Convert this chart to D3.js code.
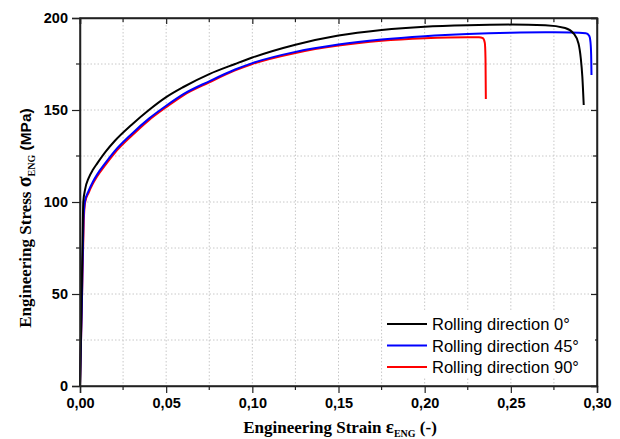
<!DOCTYPE html>
<html>
<head>
<meta charset="utf-8">
<script src="https://cdn.jsdelivr.net/npm/d3@7"></script>
<style>
  html, body { margin: 0; padding: 0; background: #fff; }
  svg { display: block; }
</style>
</head>
<body>
<svg id="chart" width="620" height="439"></svg>
<script>
// Tensile test curves: engineering strain (-) vs engineering stress (MPa)
const seriesNames = ["Rolling direction 0°", "Rolling direction 45°", "Rolling direction 90°"];
const seriesColors = ["#000000", "#0000ff", "#ff0000"];

const strain0 = [0, 0.0008, 0.0015, 0.0019, 0.003, 0.005, 0.0075, 0.01, 0.015, 0.02, 0.03, 0.04, 0.05, 0.06, 0.075, 0.09, 0.10, 0.125, 0.15, 0.175, 0.20, 0.225, 0.25, 0.27, 0.2815, 0.2865, 0.2893, 0.2906, 0.2915, 0.2923];
const stress0 = [0, 40, 80, 100, 107, 113, 117.5, 121, 127.5, 133, 142, 150, 157, 162.5, 169.5, 175, 178.5, 185.5, 190.5, 193.5, 195.3, 196.1, 196.4, 196.1, 194.6, 191.5, 186, 178, 168, 152.7];

const strain45 = [0, 0.0012, 0.002, 0.0028, 0.005, 0.0075, 0.01, 0.015, 0.02, 0.03, 0.04, 0.05, 0.06, 0.075, 0.09, 0.10, 0.125, 0.15, 0.175, 0.20, 0.225, 0.25, 0.27, 0.285, 0.2935, 0.2955, 0.2962, 0.2966, 0.2968];
const stress45 = [0, 50, 90, 100, 106, 111, 115, 121.5, 127.5, 137, 145.3, 152.3, 158.6, 165.6, 172, 175.5, 181.6, 185.6, 188.3, 190.1, 191.3, 192, 192.2, 192.1, 191.7, 190.3, 187, 180, 169];

const strain90 = [0, 0.0012, 0.0022, 0.003, 0.005, 0.0075, 0.01, 0.015, 0.02, 0.03, 0.04, 0.05, 0.06, 0.075, 0.09, 0.10, 0.125, 0.15, 0.175, 0.20, 0.225, 0.2315, 0.2338, 0.2349, 0.2353, 0.2355];
const stress90 = [0, 50, 90, 100, 105, 110, 114, 120.5, 126.5, 136, 144.5, 151.5, 158, 165, 171.5, 175, 181, 185, 187.6, 189, 189.6, 189.6, 189, 186.5, 178, 156];

const xTickLabels = ["0,00", "0,05", "0,10", "0,15", "0,20", "0,25", "0,30"];
const yTickLabels = ["0", "50", "100", "150", "200"];

const series = [
  { name: seriesNames[0], color: seriesColors[0], x: strain0, y: stress0 },
  { name: seriesNames[1], color: seriesColors[1], x: strain45, y: stress45 },
  { name: seriesNames[2], color: seriesColors[2], x: strain90, y: stress90 }
];

const svg = d3.select("#chart");
const plotLeft = 80, plotRight = 597, plotTop = 18, plotBottom = 386;

const x = d3.scaleLinear().domain([0, 0.30]).range([plotLeft, plotRight]);
const y = d3.scaleLinear().domain([0, 200]).range([plotBottom, plotTop]);

const xMajor = d3.range(0, 0.3001, 0.05);
const xMinor = d3.range(0.025, 0.3, 0.05);
const yMajor = d3.range(0, 200.1, 50);
const yMinor = d3.range(25, 200, 50);

// dotted grid at every major and minor tick
const grid = svg.append("g").attr("stroke", "#c8c8c8").attr("stroke-width", 1).attr("stroke-dasharray", "1.5,2");
d3.range(0.025, 0.3, 0.025).forEach(v => {
  grid.append("line").attr("x1", x(v)).attr("x2", x(v)).attr("y1", plotTop).attr("y2", plotBottom);
});
d3.range(25, 200, 25).forEach(v => {
  grid.append("line").attr("x1", plotLeft).attr("x2", plotRight).attr("y1", y(v)).attr("y2", y(v));
});

// curves
const line = d3.line()
  .x(d => x(d[0]))
  .y(d => y(d[1]))
  .curve(d3.curveMonotoneX);

const curves = svg.append("g");
series.slice().reverse().forEach(s => {
  const pts = s.x.map((v, i) => [v, s.y[i]]);
  curves.append("path")
    .attr("d", line(pts))
    .attr("fill", "none")
    .attr("stroke", s.color)
    .attr("stroke-width", 2)
    .attr("stroke-linejoin", "round");
});

// axes
const tickFont = "'Liberation Sans', Arial, sans-serif";

const xAxis = d3.axisBottom(x).tickValues(xMajor).tickFormat((d, i) => xTickLabels[i]).tickSize(7).tickPadding(5);
const gx = svg.append("g").attr("transform", `translate(0,${plotBottom})`).call(xAxis);
xMinor.forEach(v => gx.append("line").attr("class", "minor").attr("x1", x(v)).attr("x2", x(v)).attr("y1", 0).attr("y2", 4));

const yAxis = d3.axisLeft(y).tickValues(yMajor).tickFormat((d, i) => yTickLabels[i]).tickSize(8).tickPadding(4);
const gy = svg.append("g").attr("transform", `translate(${plotLeft},0)`).call(yAxis);
yMinor.forEach(v => gy.append("line").attr("class", "minor").attr("x1", 0).attr("x2", -4).attr("y1", y(v)).attr("y2", y(v)));

const xTop = d3.axisTop(x).tickValues(xMajor).tickFormat("").tickSize(-6);
const gxt = svg.append("g").attr("transform", `translate(0,${plotTop})`).call(xTop);
xMinor.forEach(v => gxt.append("line").attr("class", "minor").attr("x1", x(v)).attr("x2", x(v)).attr("y1", 0).attr("y2", 4));

const yRight = d3.axisRight(y).tickValues(yMajor).tickFormat("").tickSize(-6);
const gyr = svg.append("g").attr("transform", `translate(${plotRight},0)`).call(yRight);
yMinor.forEach(v => gyr.append("line").attr("class", "minor").attr("x1", 0).attr("x2", -4).attr("y1", y(v)).attr("y2", y(v)));

[gx, gy, gxt, gyr].forEach(g => {
  g.select(".domain").attr("stroke", "#222").attr("stroke-width", 1.5);
  g.selectAll(".tick line, line.minor").attr("stroke", "#222").attr("stroke-width", 1.2);
  g.selectAll("text")
    .attr("font-family", tickFont)
    .attr("font-weight", "bold")
    .attr("font-size", 14.5)
    .attr("fill", "#000");
});

// frame
svg.append("rect")
  .attr("x", plotLeft).attr("y", plotTop)
  .attr("width", plotRight - plotLeft).attr("height", plotBottom - plotTop)
  .attr("fill", "none").attr("stroke", "#222").attr("stroke-width", 1.5);

// axis titles
const serif = "'Liberation Serif', 'Times New Roman', serif";
const xt = svg.append("text")
  .attr("x", 340).attr("y", 433)
  .attr("text-anchor", "middle")
  .attr("font-family", serif).attr("font-weight", "bold").attr("font-size", 17)
  .attr("fill", "#000");
xt.append("tspan").text("Engineering Strain ");
xt.append("tspan").attr("font-size", 19).text("ε");
xt.append("tspan").attr("font-size", 10).attr("dy", 4).text("ENG");
xt.append("tspan").attr("dy", -4).text(" (-)");

const yt = svg.append("text")
  .attr("transform", "translate(31,218) rotate(-90)")
  .attr("text-anchor", "middle")
  .attr("font-family", serif).attr("font-weight", "bold").attr("font-size", 17)
  .attr("fill", "#000");
yt.append("tspan").text("Engineering Stress ");
yt.append("tspan").attr("font-size", 20).text("σ");
yt.append("tspan").attr("font-size", 10).attr("dy", 4).text("ENG");
yt.append("tspan").attr("dy", -4).attr("font-family", tickFont).attr("font-size", 15.5).text(" (MPa)");

// legend
const legend = svg.append("g");
legend.append("rect")
  .attr("x", 383).attr("y", 312).attr("width", 212).attr("height", 66)
  .attr("fill", "#fff");
series.forEach((s, i) => {
  const ly = 324 + i * 21.5;
  legend.append("line")
    .attr("x1", 387).attr("x2", 427).attr("y1", ly).attr("y2", ly)
    .attr("stroke", s.color).attr("stroke-width", 1.8);
  legend.append("text")
    .attr("x", 432).attr("y", ly + 6)
    .attr("font-family", tickFont).attr("font-size", 16.5)
    .attr("fill", "#000")
    .text(s.name);
});
</script>
</body>
</html>
